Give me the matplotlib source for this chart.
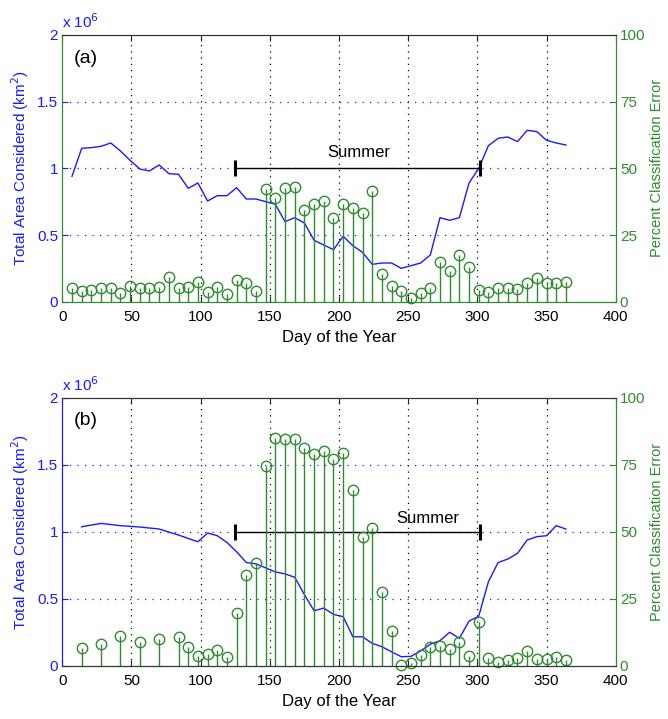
import matplotlib
matplotlib.use("Agg")
import matplotlib.pyplot as plt

plt.rcParams['font.family'] = ['Liberation Sans', 'DejaVu Sans']

BLUE = '#1a1aff'
GREEN = '#2e8b2e'

# ---- panel (a): weekly composites ----
days_a = [7, 14, 21, 28, 35, 42, 49, 56, 63, 70, 77, 84, 91, 98, 105, 112, 119,
          126, 133, 140, 147, 154, 161, 168, 175, 182, 189, 196, 203, 210, 217,
          224, 231, 238, 245, 252, 259, 266, 273, 280, 287, 294, 301, 308, 315,
          322, 329, 336, 343, 350, 357, 364]
area_a = [0.94, 1.15, 1.155, 1.165, 1.19, 1.13, 1.06, 0.995, 0.98, 1.025, 0.96,
          0.955, 0.85, 0.89, 0.755, 0.795, 0.795, 0.855, 0.77, 0.77, 0.75, 0.73,
          0.60, 0.63, 0.59, 0.46, 0.425, 0.39, 0.49, 0.42, 0.37, 0.28, 0.29,
          0.29, 0.25, 0.27, 0.29, 0.35, 0.63, 0.61, 0.63, 0.89, 1.00, 1.17,
          1.225, 1.235, 1.20, 1.285, 1.275, 1.21, 1.19, 1.175]
error_a = [5.0, 4.1, 4.4, 5.0, 5.3, 3.4, 6.0, 5.0, 5.0, 5.6, 9.4, 5.0, 5.4, 7.3,
           3.8, 5.6, 3.0, 8.0, 7.1, 4.1, 42.1, 38.8, 42.8, 42.9, 34.4, 36.6,
           37.9, 31.3, 36.6, 35.0, 33.1, 41.6, 10.3, 5.8, 4.1, 1.5, 3.4, 5.0,
           15.0, 11.5, 17.5, 12.9, 4.4, 3.8, 5.3, 5.0, 4.6, 6.9, 9.0, 7.1, 6.9,
           7.5]

# ---- panel (b) ----
days_b = [14, 28, 42, 56, 70, 84, 91, 98, 105, 112, 119, 126, 133, 140, 147,
          154, 161, 168, 175, 182, 189, 196, 203, 210, 217, 224, 231, 238, 245,
          252, 259, 266, 273, 280, 287, 294, 301, 308, 315, 322, 329, 336, 343,
          350, 357, 364]
area_b = [1.037, 1.062, 1.045, 1.035, 1.02, 0.975, 0.95, 0.925, 0.99, 0.97,
          0.92, 0.85, 0.77, 0.76, 0.73, 0.70, 0.685, 0.66, 0.53, 0.41, 0.43,
          0.383, 0.366, 0.216, 0.216, 0.167, 0.142, 0.104, 0.067, 0.07, 0.11,
          0.16, 0.187, 0.25, 0.204, 0.333, 0.37, 0.627, 0.77, 0.796, 0.838,
          0.938, 0.963, 0.97, 1.045, 1.02]
error_b = [6.5, 8.1, 11.1, 8.7, 9.8, 10.7, 6.8, 3.7, 4.2, 5.8, 3.4, 19.6, 33.8,
           38.4, 74.6, 84.8, 84.5, 84.6, 81.1, 79.1, 80.2, 77.1, 79.4, 65.5,
           47.9, 51.2, 27.6, 12.9, 0.4, 0.9, 4.0, 7.1, 7.5, 6.1, 9.0, 3.6, 16.4,
           3.0, 1.5, 2.1, 2.7, 5.5, 2.4, 2.4, 3.4, 2.1]

summer_start, summer_end, summer_level = 125, 302, 1.0
x_ticks = [0, 50, 100, 150, 200, 250, 300, 350, 400]
area_ticks = [0, 0.5, 1, 1.5, 2]
area_tick_labels = ['0', '0.5', '1', '1.5', '2']
err_ticks = [0, 25, 50, 75, 100]

fig = plt.figure(figsize=(6.68, 7.19), dpi=100)

panels = [
    dict(rect=[0.0933, 0.5804, 0.8284, 0.3710], tag='(a)', days=days_a,
         area=area_a, err=error_a, left_col=GREEN, bottom_col=GREEN,
         summer_x=214, summer_y=1.115),
    dict(rect=[0.0933, 0.0741, 0.8284, 0.3728], tag='(b)', days=days_b,
         area=area_b, err=error_b, left_col=BLUE, bottom_col='#333333',
         summer_x=264, summer_y=1.10),
]

for p in panels:
    ax = fig.add_axes(p['rect'])
    ax.set_xlim(0, 400)
    ax.set_ylim(0, 2)
    ax.set_xticks(x_ticks)
    ax.set_yticks(area_ticks)
    ax.set_yticklabels(area_tick_labels)
    ax.tick_params(axis='x', direction='in', length=4, labelsize=11,
                   top=True, colors='#222222', pad=6)
    ax.tick_params(axis='y', direction='in', length=4, labelsize=11,
                   colors=BLUE, pad=3)
    for lbl in ax.get_xticklabels():
        lbl.set_color('black')

    # grid: vertical black dotted, horizontal blue dotted
    for xv in x_ticks[1:-1]:
        ax.axvline(xv, color='black', lw=0.9, ls=(0, (1, 4)), zorder=0.5)
    for yv in area_ticks[1:-1]:
        ax.axhline(yv, color=BLUE, lw=0.9, ls=(0, (1, 5)), zorder=0.5)

    ax.plot(p['days'], p['area'], color=BLUE, lw=1.0, zorder=2)

    # summer span marker
    ax.plot([summer_start, summer_end], [summer_level, summer_level],
            color='black', lw=1.0, zorder=3)
    ax.plot([summer_start, summer_end], [summer_level, summer_level],
            ls='none', marker='|', ms=12, mew=2.2, color='black', zorder=3)
    ax.text(p['summer_x'], p['summer_y'], 'Summer', ha='center',
            va='center', fontsize=12)

    ax.text(0.02, 0.945, p['tag'], transform=ax.transAxes, ha='left',
            va='top', fontsize=14)
    ax.text(0.0, 1.015, r'x 10$^6$', transform=ax.transAxes, ha='left',
            va='bottom', fontsize=11, color=BLUE)

    ax.set_xlabel('Day of the Year', fontsize=12, labelpad=4)
    ax.set_ylabel(r'Total Area Considered (km$^2$)', fontsize=11,
                  color=BLUE, labelpad=4)

    ax.spines['top'].set_color('#333333')
    ax.spines['left'].set_color(p['left_col'])
    ax.spines['bottom'].set_color(p['bottom_col'])
    ax.spines['right'].set_color(GREEN)

    # classification error on the right axis
    ax2 = ax.twinx()
    ax2.set_ylim(0, 100)
    ax2.set_yticks(err_ticks)
    ax2.tick_params(axis='y', direction='in', length=4, labelsize=11,
                    colors=GREEN, pad=3)
    ax2.vlines(p['days'], 0, p['err'], color=GREEN, lw=1.0)
    ax2.plot(p['days'], p['err'], ls='none', marker='o', ms=7.5,
             mfc='none', mec=GREEN, mew=1.0, clip_on=False)
    ax2.set_ylabel('Percent Classification Error', fontsize=10.5, color=GREEN,
                   labelpad=3)
    for side, col in (('right', GREEN), ('left', p['left_col']),
                      ('top', '#333333'), ('bottom', p['bottom_col'])):
        ax2.spines[side].set_color(col)

fig.savefig('out.png', dpi=100)
